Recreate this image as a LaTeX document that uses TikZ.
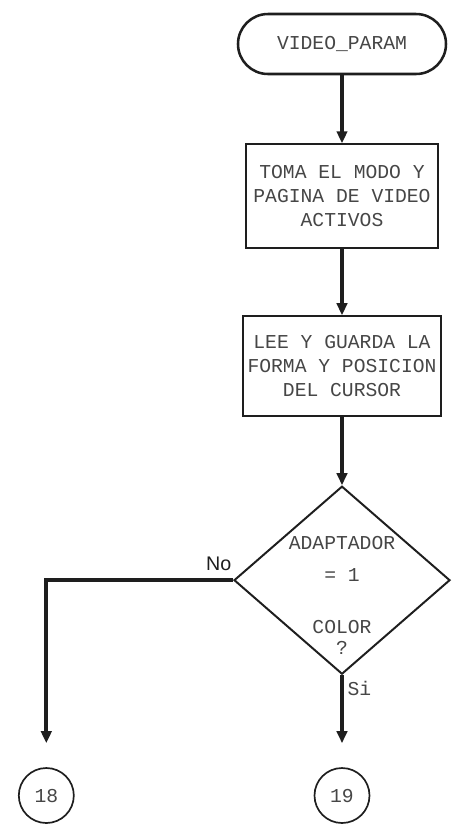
\documentclass[tikz,border=0pt]{standalone}
\usepackage{fontspec}
\usepackage{tikz}
\usepackage{xcolor}
\usetikzlibrary{shapes.geometric, arrows.meta, positioning, calc}
\newfontfamily\dotfont{Liberation Mono}
\newfontfamily\labelfont{Liberation Sans}
\definecolor{cInk}{RGB}{30,30,30}
\definecolor{cText}{RGB}{70,70,70}
\tikzset{
    startstop/.style={rectangle, rounded corners=0.75cm, minimum width=5.2cm, minimum height=1.5cm, text centered, align=center, draw=cInk, line width=1.8pt},
    process/.style  ={rectangle, minimum width=4.8cm, text centered, align=center, draw=cInk, line width=1.4pt},
    decision/.style ={diamond, minimum width=5.4cm, minimum height=4.7cm, text centered, align=center, draw=cInk, line width=1.4pt, inner sep=-0.9cm},
    connector/.style={circle, minimum size=1.375cm, draw=cInk, line width=1.2pt, inner sep=0pt},
    flowarrow/.style={-{Triangle[length=3mm, width=2.6mm]}, line width=2.6pt, draw=cInk},
}
\begin{document}
\begin{tikzpicture}[every node/.style={font=\dotfont\fontsize{14}{17}\selectfont, text=cText}, node distance=1.7cm]
            \useasboundingbox (0,0) rectangle (11.8,-20.8);
            \node[startstop] (start) at (8.55,-1.1) {VIDEO\_PARAM};
            \node[process, below=1.7cm of start, minimum height=2.6cm] (modo){TOMA EL MODO Y\\PAGINA DE VIDEO\\ACTIVOS};
            \node[process, below=1.65cm of modo, minimum height=2.5cm] (cursor){LEE Y GUARDA LA\\FORMA Y POSICION\\DEL CURSOR};
            \node[decision, below=1.7cm of cursor] (color){\rule{0pt}{1.1cm}ADAPTADOR\\[0.2cm]= 1\\[0.7cm]COLOR\\[-0.08cm]?};
            \node[connector, below=2.3cm of color] (c19){19};
            \node[connector, left=5.975cm of c19] (c18){18};
            \node[anchor=south east, font=\labelfont\fontsize{14}{16}\selectfont, text=cInk, inner sep=1pt] (no) at ([yshift=0.2cm]color.west){No};
            \node[anchor=north west, inner sep=1pt] (si) at ([xshift=0.1cm,yshift=-0.1cm]color.south){Si};
            \draw[flowarrow](start)--(modo);
            \draw[flowarrow](modo)--(cursor);
            \draw[flowarrow](cursor)--(color);
            \draw[flowarrow, shorten >=0.6cm](color.south)--(c19.north);
            \draw[flowarrow, line width=3pt, shorten >=0.6cm](color.west)-|(c18.north);
        \end{tikzpicture}
\end{document}
